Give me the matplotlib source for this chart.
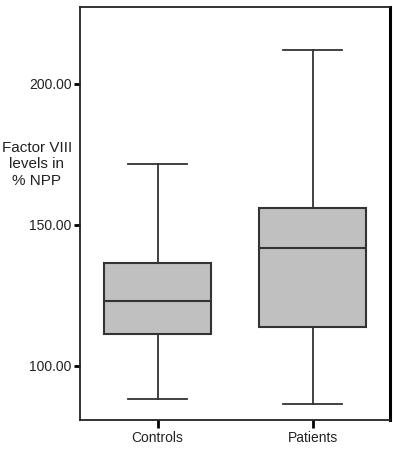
import matplotlib
matplotlib.use("Agg")
import matplotlib.pyplot as plt

plt.rcParams['font.family'] = ['Liberation Sans', 'DejaVu Sans']

groups = ["Controls", "Patients"]
whislo = [88.2, 86.4]
q1 = [111.3, 113.6]
med = [122.8, 141.8]
q3 = [136.4, 155.9]
whishi = [171.7, 212.0]
yticks = [100, 150, 200]

stats = []
for i, g in enumerate(groups):
    stats.append({"label": g, "whislo": whislo[i], "q1": q1[i], "med": med[i],
                  "q3": q3[i], "whishi": whishi[i], "fliers": []})

fig = plt.figure(figsize=(3.93, 4.49), dpi=100)
ax = fig.add_axes([0.2036, 0.0646, 0.7888, 0.9191])

lc = "#333333"
ax.bxp(stats, positions=[1, 2], widths=0.69, patch_artist=True, showfliers=False,
       capwidths=0.375,
       boxprops=dict(facecolor="#c0c0c0", edgecolor=lc, linewidth=1.5),
       medianprops=dict(color=lc, linewidth=1.5),
       whiskerprops=dict(color=lc, linewidth=1.3),
       capprops=dict(color=lc, linewidth=1.3))

ax.set_xlim(0.5, 2.5)
ax.set_ylim(80.7, 227.2)
ax.set_yticks(yticks)
ax.set_yticklabels([f"{v:.2f}" for v in yticks])
ax.tick_params(axis="y", direction="out", length=4, width=2, labelsize=10, pad=2,
               labelcolor="#222222")
ax.tick_params(axis="x", direction="out", length=6, width=2, labelsize=10, pad=2,
               labelcolor="#222222")

for s in ["left", "top", "bottom"]:
    ax.spines[s].set_linewidth(1.3)
    ax.spines[s].set_color("#222222")
ax.spines["right"].set_linewidth(2.2)
ax.spines["right"].set_color("black")

# horizontal y label to the left of the axis
fig.text(0.094, 0.634, "Factor VIII\nlevels in\n% NPP", ha="center", va="center",
         fontsize=11, linespacing=1.25, color="#222222")

fig.savefig("out.png", dpi=100)
